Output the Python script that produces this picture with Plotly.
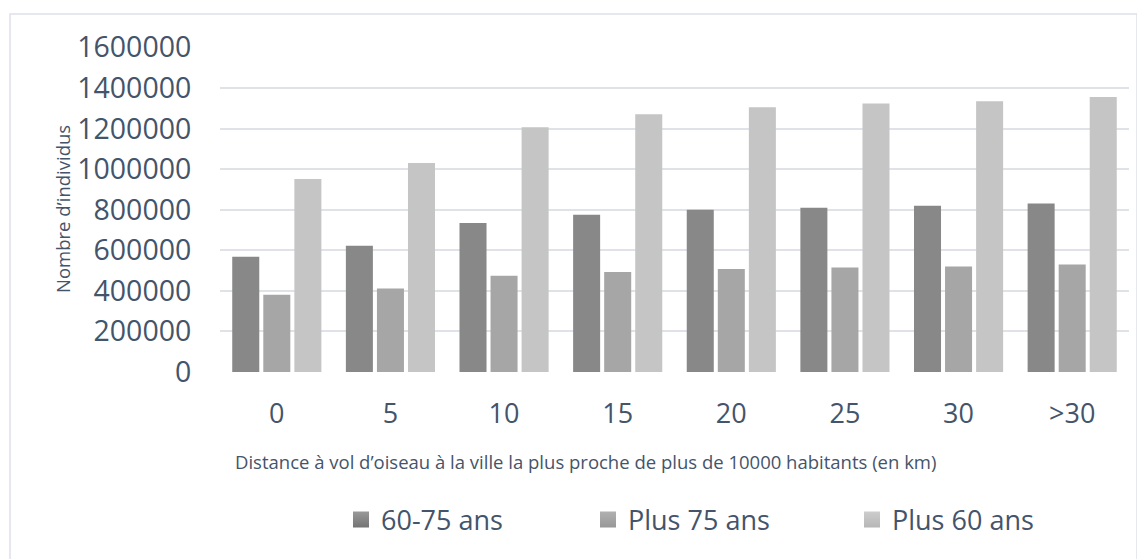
import plotly.graph_objects as go

categories = ["0", "5", "10", "15", "20", "25", "30", ">30"]
s_60_75 = [568000, 622000, 735000, 775000, 800000, 810000, 820000, 830000]
s_plus75 = [381000, 411000, 475000, 493000, 508000, 515000, 520000, 530000]
s_plus60 = [951000, 1030000, 1207000, 1270000, 1305000, 1323000, 1335000, 1355000]
series_names = ["60-75 ans", "Plus 75 ans", "Plus 60 ans"]
y_ticks = [0, 200000, 400000, 600000, 800000, 1000000, 1200000, 1400000, 1600000]

TXT = "#44546A"
FONT = "Open Sans"
colors = ["#888888", "#a6a6a6", "#c5c5c5"]
top_colors = ["#9a9a9a", "#b0b0b0", "#cdcdcd"]
bottom_colors = ["#737373", "#979797", "#b6b6b6"]

fig = go.Figure()
for i, (name, vals) in enumerate(zip(series_names, [s_60_75, s_plus75, s_plus60])):
    fig.add_trace(go.Bar(
        x=categories, y=vals, name=name, showlegend=False,
        marker=dict(color=colors[i], line=dict(width=0)),
    ))
# legend entries (square swatches)
for i, name in enumerate(series_names):
    fig.add_trace(go.Scatter(
        x=[None], y=[None], mode="markers", name=name, showlegend=True,
        hoverinfo="skip",
        marker=dict(symbol="square", size=16, color=top_colors[i],
                    gradient=dict(type="vertical", color=bottom_colors[i]),
                    line=dict(width=0)),
        legend="legend" if i == 0 else f"legend{i+1}",
    ))

OFF = 8  # page body margin
W, H = 1145 - OFF, 559 - OFF
L, R, T, B = 220 - OFF, 1129 - OFF, 47 - OFF, 372 - OFF
pw, ph = R - L, B - T

def px(x):
    return (x - OFF - L) / pw

def py(y):
    return (B - (y - OFF)) / ph

leg_common = dict(orientation="h", yanchor="middle", xanchor="left",
                  font=dict(family=FONT, size=27, color=TXT),
                  bgcolor="rgba(0,0,0,0)", borderwidth=0, itemsizing="trace")

fig.update_layout(
    width=W, height=H, showlegend=True,
    margin=dict(l=L, r=W - R, t=T, b=H - B, pad=0),
    paper_bgcolor="white", plot_bgcolor="white",
    barmode="group", bargap=0.18, bargroupgap=0.13,
    font=dict(family=FONT, color=TXT),
    legend=dict(x=px(341), y=py(520), **leg_common),
    legend2=dict(x=px(588), y=py(520), **leg_common),
    legend3=dict(x=px(852), y=py(520), **leg_common),
    xaxis=dict(
        type="category", categoryorder="array", categoryarray=categories,
        showgrid=False, zeroline=False, showline=False,
        tickfont=dict(family=FONT, size=27, color=TXT),
        ticks="outside", ticklen=18, tickcolor="rgba(0,0,0,0)",
    ),
    yaxis=dict(
        range=[0, 1602000], tickvals=y_ticks,
        ticktext=[str(v) for v in y_ticks],
        showgrid=True, gridcolor="#dfe3e8", gridwidth=1.5,
        zeroline=False, showline=False,
        tickfont=dict(family=FONT, size=28.5, color=TXT),
        ticks="outside", ticklen=22, tickcolor="rgba(0,0,0,0)",
    ),
    annotations=[
        dict(text="Distance à vol d’oiseau à la ville la plus proche de plus de 10000 habitants (en km)",
             xref="paper", yref="paper", x=px(585), y=py(461),
             xanchor="center", yanchor="middle", showarrow=False,
             font=dict(family=FONT, size=18.5, color=TXT)),
        dict(text="Nombre d’individus", textangle=-90,
             xref="paper", yref="paper", x=px(62), y=py(209),
             xanchor="center", yanchor="middle", showarrow=False,
             font=dict(family=FONT, size=18.5, color=TXT)),
    ],
    shapes=[
        dict(type="rect", xref="paper", yref="paper",
             x0=px(10), x1=px(1137), y0=py(566), y1=py(14),
             line=dict(color="#dde1e6", width=1.5), fillcolor="rgba(0,0,0,0)",
             layer="below"),
    ],
)

fig.write_html("out.html")
